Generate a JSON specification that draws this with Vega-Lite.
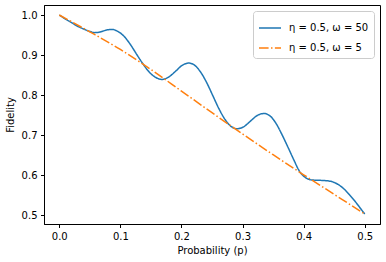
{
  "$schema": "https://vega.github.io/schema/vega-lite/v6.json",
  "width": 336,
  "height": 219,
  "autosize": "none",
  "padding": {"left": 44, "top": 5, "right": 6, "bottom": 38},
  "config": {
    "font": "DejaVu Sans",
    "view": {"stroke": "black", "strokeWidth": 1},
    "axis": {"grid": false, "domainColor": "black", "tickColor": "black", "labelColor": "black", "titleColor": "black", "labelFontSize": 10, "titleFontSize": 10, "titleFontWeight": "normal", "tickSize": 3.5, "labelPadding": 3.5, "domainWidth": 1, "tickWidth": 1}
  },
  "data": {"values": [
    {"p": 0, "F": 1.0, "series": "η = 0.5, ω = 50"},
    {"p": 0.01, "F": 0.99, "series": "η = 0.5, ω = 50"},
    {"p": 0.02, "F": 0.981, "series": "η = 0.5, ω = 50"},
    {"p": 0.03, "F": 0.972, "series": "η = 0.5, ω = 50"},
    {"p": 0.04, "F": 0.965, "series": "η = 0.5, ω = 50"},
    {"p": 0.05, "F": 0.959, "series": "η = 0.5, ω = 50"},
    {"p": 0.058, "F": 0.956, "series": "η = 0.5, ω = 50"},
    {"p": 0.065, "F": 0.957, "series": "η = 0.5, ω = 50"},
    {"p": 0.072, "F": 0.96, "series": "η = 0.5, ω = 50"},
    {"p": 0.079, "F": 0.963, "series": "η = 0.5, ω = 50"},
    {"p": 0.086, "F": 0.964, "series": "η = 0.5, ω = 50"},
    {"p": 0.096, "F": 0.959, "series": "η = 0.5, ω = 50"},
    {"p": 0.1065, "F": 0.946, "series": "η = 0.5, ω = 50"},
    {"p": 0.117, "F": 0.925, "series": "η = 0.5, ω = 50"},
    {"p": 0.127, "F": 0.901, "series": "η = 0.5, ω = 50"},
    {"p": 0.137, "F": 0.878, "series": "η = 0.5, ω = 50"},
    {"p": 0.1475, "F": 0.857, "series": "η = 0.5, ω = 50"},
    {"p": 0.158, "F": 0.844, "series": "η = 0.5, ω = 50"},
    {"p": 0.168, "F": 0.839, "series": "η = 0.5, ω = 50"},
    {"p": 0.179, "F": 0.845, "series": "η = 0.5, ω = 50"},
    {"p": 0.19, "F": 0.859, "series": "η = 0.5, ω = 50"},
    {"p": 0.201, "F": 0.874, "series": "η = 0.5, ω = 50"},
    {"p": 0.212, "F": 0.88, "series": "η = 0.5, ω = 50"},
    {"p": 0.222, "F": 0.874, "series": "η = 0.5, ω = 50"},
    {"p": 0.232, "F": 0.856, "series": "η = 0.5, ω = 50"},
    {"p": 0.242, "F": 0.829, "series": "η = 0.5, ω = 50"},
    {"p": 0.2515, "F": 0.798, "series": "η = 0.5, ω = 50"},
    {"p": 0.261, "F": 0.767, "series": "η = 0.5, ω = 50"},
    {"p": 0.271, "F": 0.74, "series": "η = 0.5, ω = 50"},
    {"p": 0.281, "F": 0.722, "series": "η = 0.5, ω = 50"},
    {"p": 0.291, "F": 0.716, "series": "η = 0.5, ω = 50"},
    {"p": 0.302, "F": 0.721, "series": "η = 0.5, ω = 50"},
    {"p": 0.313, "F": 0.735, "series": "η = 0.5, ω = 50"},
    {"p": 0.324, "F": 0.749, "series": "η = 0.5, ω = 50"},
    {"p": 0.335, "F": 0.754, "series": "η = 0.5, ω = 50"},
    {"p": 0.345, "F": 0.748, "series": "η = 0.5, ω = 50"},
    {"p": 0.3545, "F": 0.73, "series": "η = 0.5, ω = 50"},
    {"p": 0.364, "F": 0.703, "series": "η = 0.5, ω = 50"},
    {"p": 0.374, "F": 0.671, "series": "η = 0.5, ω = 50"},
    {"p": 0.384, "F": 0.638, "series": "η = 0.5, ω = 50"},
    {"p": 0.3935, "F": 0.609, "series": "η = 0.5, ω = 50"},
    {"p": 0.403, "F": 0.594, "series": "η = 0.5, ω = 50"},
    {"p": 0.413, "F": 0.588, "series": "η = 0.5, ω = 50"},
    {"p": 0.428, "F": 0.587, "series": "η = 0.5, ω = 50"},
    {"p": 0.443, "F": 0.585, "series": "η = 0.5, ω = 50"},
    {"p": 0.455, "F": 0.578, "series": "η = 0.5, ω = 50"},
    {"p": 0.465, "F": 0.567, "series": "η = 0.5, ω = 50"},
    {"p": 0.475, "F": 0.551, "series": "η = 0.5, ω = 50"},
    {"p": 0.485, "F": 0.533, "series": "η = 0.5, ω = 50"},
    {"p": 0.495, "F": 0.513, "series": "η = 0.5, ω = 50"},
    {"p": 0.5, "F": 0.503, "series": "η = 0.5, ω = 50"},
    {"p": 0, "F": 1.0, "series": "η = 0.5, ω = 5"},
    {"p": 0.05, "F": 0.958, "series": "η = 0.5, ω = 5"},
    {"p": 0.1, "F": 0.914, "series": "η = 0.5, ω = 5"},
    {"p": 0.15, "F": 0.864, "series": "η = 0.5, ω = 5"},
    {"p": 0.2, "F": 0.81, "series": "η = 0.5, ω = 5"},
    {"p": 0.25, "F": 0.756, "series": "η = 0.5, ω = 5"},
    {"p": 0.3, "F": 0.703, "series": "η = 0.5, ω = 5"},
    {"p": 0.35, "F": 0.651, "series": "η = 0.5, ω = 5"},
    {"p": 0.4, "F": 0.601, "series": "η = 0.5, ω = 5"},
    {"p": 0.45, "F": 0.552, "series": "η = 0.5, ω = 5"},
    {"p": 0.5, "F": 0.503, "series": "η = 0.5, ω = 5"}
  ]},
  "mark": {"type": "line", "interpolate": "monotone", "strokeWidth": 1.5},
  "encoding": {
    "x": {"field": "p", "type": "quantitative", "scale": {"domain": [-0.025, 0.525], "nice": false, "zero": false}, "axis": {"values": [0, 0.1, 0.2, 0.3, 0.4, 0.5], "format": ".1f", "title": "Probability (p)", "titlePadding": 4}},
    "y": {"field": "F", "type": "quantitative", "scale": {"domain": [0.478, 1.025], "nice": false, "zero": false}, "axis": {"values": [0.5, 0.6, 0.7, 0.8, 0.9, 1.0], "format": ".1f", "title": "Fidelity", "titlePadding": 6}},
    "color": {"field": "series", "type": "nominal", "scale": {"domain": ["η = 0.5, ω = 50", "η = 0.5, ω = 5"], "range": ["#1f77b4", "#ff7f0e"]},
      "legend": {"title": null, "orient": "top-right", "offset": 6, "strokeColor": "#cccccc", "fillColor": "white", "cornerRadius": 3, "padding": 5, "symbolType": "stroke", "symbolSize": 484, "symbolStrokeWidth": 1.5, "labelFontSize": 10, "labelOffset": 7, "rowPadding": 3, "labelColor": "black"}},
    "strokeDash": {"field": "series", "type": "nominal", "scale": {"domain": ["η = 0.5, ω = 50", "η = 0.5, ω = 5"], "range": [[1, 0], [9.6, 2.4, 1.5, 2.4]]},
      "legend": {"title": null, "orient": "top-right", "offset": 6, "strokeColor": "#cccccc", "fillColor": "white", "cornerRadius": 3, "padding": 5, "symbolType": "stroke", "symbolSize": 484, "symbolStrokeWidth": 1.5, "labelFontSize": 10, "labelOffset": 7, "rowPadding": 3, "labelColor": "black"}}
  }
}
